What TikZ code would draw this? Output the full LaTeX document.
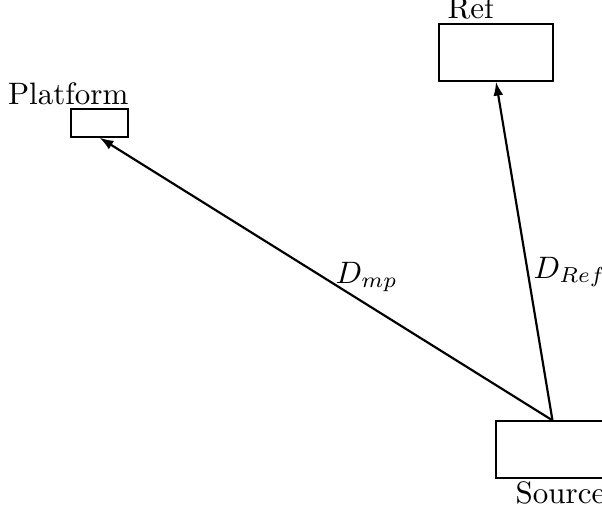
\documentclass[tikz,border=0pt]{standalone}
\usetikzlibrary{arrows.meta}
\begin{document}
\begin{tikzpicture}[x=0.3225pt,y=-0.3225pt,
  boxnode/.style={draw,line width=0.4pt,inner sep=0pt,rectangle},
  link/.style={line width=0.7pt,-{Latex[length=4.5pt,width=3.2pt]}},
  lbl/.style={inner sep=0pt}]
\useasboundingbox (0,0) rectangle (602,516);
\node[boxnode,minimum width=114*0.3225pt,minimum height=57*0.3225pt] (ref) at (496,52.5) {};
\node[boxnode,minimum width=57*0.3225pt,minimum height=28*0.3225pt] (plat) at (99.5,123) {};
\node[boxnode,minimum width=113*0.3225pt,minimum height=57*0.3225pt] (src) at (552.5,449.5) {};
\node[lbl,anchor=base west] (reflbl) at (447,18) {Ref};
\node[lbl,anchor=base east] (platlbl) at (129,104) {Platform};
\node[lbl,anchor=base west] (srclbl) at (515,503) {Source};
\draw[link] (src.north) -- (ref.south);
\draw[link] (src.north) -- (plat.south);
\node[lbl,anchor=base west] (dmp) at (335,283) {$D_{mp}$};
\node[lbl,anchor=base west] (dref) at (533,278) {$D_{Ref}$};
\end{tikzpicture}
\end{document}
